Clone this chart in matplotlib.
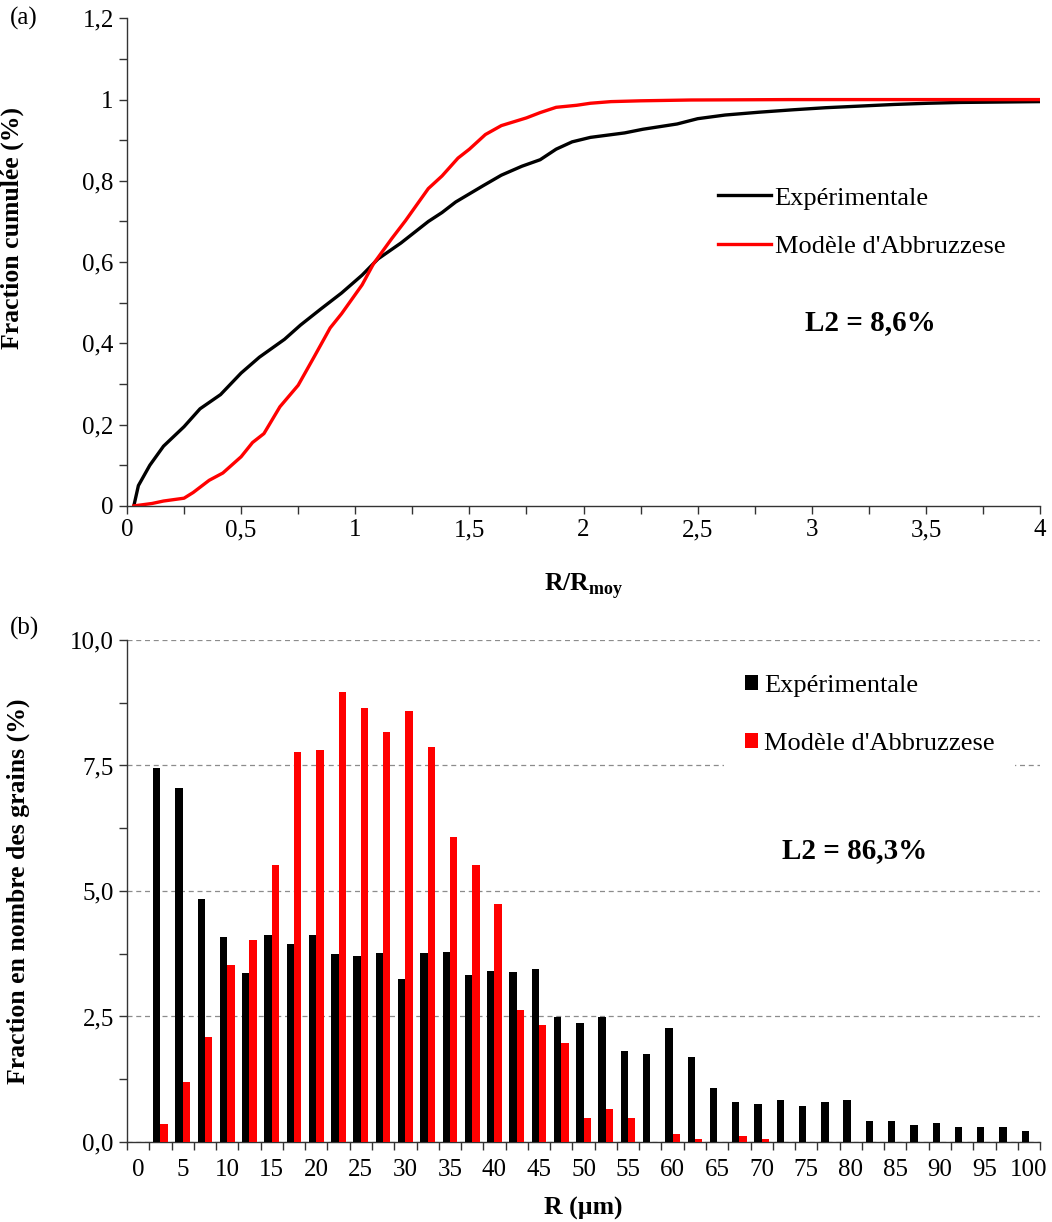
"""Cumulative and number-fraction grain size distributions, experiment vs Abbruzzese model."""

import matplotlib

matplotlib.use("Agg")
import matplotlib.pyplot as plt  # noqa: E402
from matplotlib.patches import Patch  # noqa: E402
from matplotlib.ticker import FuncFormatter, MultipleLocator  # noqa: E402
import numpy as np  # noqa: E402

plt.rcParams["font.family"] = ["Liberation Serif", "DejaVu Serif"]
plt.rcParams["mathtext.fontset"] = "custom"
plt.rcParams["mathtext.rm"] = "Liberation Serif"
plt.rcParams["mathtext.bf"] = "Liberation Serif:bold"

# (a) cumulative fraction vs R/Rmoy
exp_x = [0.03, 0.05, 0.10, 0.16, 0.25, 0.32, 0.41, 0.50, 0.58, 0.69, 0.76, 0.85, 0.94,
         1.03, 1.10, 1.20, 1.32, 1.38, 1.44, 1.56, 1.64, 1.73, 1.81, 1.88, 1.95, 2.03,
         2.18, 2.26, 2.41, 2.50, 2.62, 2.77, 2.92, 3.06, 3.21, 3.36, 3.51, 3.65, 4.00]
exp_y = [0.0, 0.05, 0.10, 0.147, 0.195, 0.239, 0.274, 0.327, 0.366, 0.41, 0.445, 0.485,
         0.524, 0.568, 0.608, 0.647, 0.70, 0.722, 0.748, 0.788, 0.814, 0.836, 0.852,
         0.878, 0.896, 0.907, 0.918, 0.927, 0.94, 0.953, 0.962, 0.969, 0.975, 0.98,
         0.984, 0.988, 0.991, 0.993, 0.995]
mod_x = [0.03, 0.11, 0.16, 0.25, 0.29, 0.36, 0.42, 0.50, 0.55, 0.60, 0.67, 0.75, 0.82,
         0.89, 0.94, 1.03, 1.08, 1.16, 1.22, 1.32, 1.38, 1.45, 1.50, 1.57, 1.64, 1.75,
         1.81, 1.88, 1.97, 2.03, 2.12, 2.25, 2.47, 2.90, 4.00]
mod_y = [0.0, 0.006, 0.012, 0.019, 0.033, 0.063, 0.081, 0.121, 0.156, 0.178, 0.244,
         0.297, 0.367, 0.438, 0.473, 0.544, 0.596, 0.658, 0.702, 0.781, 0.812, 0.856,
         0.878, 0.914, 0.936, 0.955, 0.968, 0.981, 0.986, 0.991, 0.995, 0.997, 0.999,
         1.0, 1.0]

# (b) number fraction per 2.5 um class
r_bins = [0, 2.5, 5, 7.5, 10, 12.5, 15, 17.5, 20, 22.5, 25, 27.5, 30, 32.5, 35, 37.5,
          40, 42.5, 45, 47.5, 50, 52.5, 55, 57.5, 60, 62.5, 65, 67.5, 70, 72.5, 75,
          77.5, 80, 82.5, 85, 87.5, 90, 92.5, 95, 97.5, 100]
exp_frac = [0.0, 7.45, 7.06, 4.84, 4.08, 3.37, 4.13, 3.95, 4.13, 3.75, 3.70, 3.76, 3.25,
            3.76, 3.78, 3.32, 3.40, 3.38, 3.45, 2.49, 2.36, 2.49, 1.82, 1.76, 2.27, 1.69,
            1.08, 0.80, 0.75, 0.83, 0.72, 0.80, 0.83, 0.42, 0.42, 0.33, 0.37, 0.29, 0.29,
            0.29, 0.22]
mod_frac = [0.0, 0.36, 1.20, 2.10, 3.52, 4.02, 5.51, 7.76, 7.80, 8.96, 8.65, 8.16, 8.59,
            7.86, 6.08, 5.51, 4.75, 2.63, 2.33, 1.97, 0.47, 0.65, 0.47, 0.0, 0.16, 0.06,
            0.0, 0.11, 0.06, 0.0, 0.0, 0.0, 0.0, 0.0, 0.0, 0.0, 0.0, 0.0, 0.0, 0.0, 0.0]

TICK_FS = 18
LABEL_FS = 18.5
LEGEND_FS = 19


def comma_fmt(decimals):
    def fmt(v, _pos):
        if decimals == 0:
            s = f"{v:g}"
        else:
            s = f"{v:.{decimals}f}"
        return s.replace(".", ",")
    return FuncFormatter(fmt)


def style_axes(ax):
    for side in ("top", "right"):
        ax.spines[side].set_visible(False)
    for side in ("left", "bottom"):
        ax.spines[side].set_color("#333333")
        ax.spines[side].set_linewidth(1.0)
    ax.tick_params(which="both", direction="out", color="#333333", width=1.0,
                   labelsize=TICK_FS)
    ax.tick_params(which="major", length=6)
    ax.tick_params(which="minor", length=6)


fig = plt.figure(figsize=(10.52, 12.22), dpi=100)

# ---- (a)
ax1 = fig.add_axes([0.1207, 0.586, 0.868, 0.399])
ax1.plot(exp_x, exp_y, color="black", lw=2.4, label="Expérimentale")
ax1.plot(mod_x, mod_y, color="#ff0000", lw=2.4, label="Modèle d'Abbruzzese")
ax1.set_xlim(0, 4)
ax1.set_ylim(0, 1.2)
ax1.xaxis.set_major_locator(MultipleLocator(0.5))
ax1.xaxis.set_minor_locator(MultipleLocator(0.25))
ax1.yaxis.set_major_locator(MultipleLocator(0.2))
ax1.yaxis.set_minor_locator(MultipleLocator(0.1))
ax1.xaxis.set_major_formatter(comma_fmt(0))
ax1.yaxis.set_major_formatter(comma_fmt(0))
style_axes(ax1)
ax1.set_ylabel("Fraction cumulée (%)", fontsize=LABEL_FS, fontweight="bold")
ax1.yaxis.set_label_coords(-0.113, 0.57)
ax1.set_xlabel(r"R/R$_{\mathbf{moy}}$", fontsize=LABEL_FS, fontweight="bold")
ax1.xaxis.set_label_coords(0.5, -0.133)
ax1.legend(loc="upper left", bbox_to_anchor=(0.647, 0.656), frameon=False,
           fontsize=LEGEND_FS, borderpad=0, borderaxespad=0, handlelength=2.0,
           handletextpad=0.15, labelspacing=0.95)
ax1.text(0.814, 0.376, "L2 = 8,6%", transform=ax1.transAxes, fontsize=21,
         fontweight="bold", ha="center", va="center")
fig.text(0.009, 1 - 18 / 1222, "(a)", fontsize=TICK_FS, va="center", ha="left")

# ---- (b)
ax2 = fig.add_axes([0.1207, 0.0655, 0.868, 0.4108])
idx = np.arange(len(r_bins))
bar_w = 0.33
ax2.bar(idx - bar_w / 2, exp_frac, width=bar_w, color="black", zorder=3)
ax2.bar(idx + bar_w / 2, mod_frac, width=bar_w, color="#ff0000", zorder=3)
ax2.set_xlim(-0.5, len(r_bins) - 0.5)
ax2.set_ylim(0, 10)
ax2.yaxis.set_major_locator(MultipleLocator(2.5))
ax2.yaxis.set_minor_locator(MultipleLocator(1.25))
ax2.yaxis.set_major_formatter(comma_fmt(1))
ax2.grid(axis="y", which="major", color="#8c8c8c", lw=0.9, ls=(0, (4, 3)), zorder=0)
ax2.set_axisbelow(True)
# category boundaries carry the ticks, every second category centre gets a label
ax2.set_xticks(np.arange(-0.5, len(r_bins), 1.0))
ax2.set_xticklabels([])
ax2.set_xticks(idx[::2], minor=True)
ax2.set_xticklabels([f"{r:g}" for r in r_bins[::2]], minor=True)
style_axes(ax2)
ax2.tick_params(axis="x", which="minor", length=0, pad=12)
ax2.set_ylabel("Fraction en nombre des grains (%)", fontsize=LABEL_FS, fontweight="bold")
ax2.yaxis.set_label_coords(-0.106, 0.5)
ax2.set_xlabel("R (µm)", fontsize=LABEL_FS, fontweight="bold")
ax2.xaxis.set_label_coords(0.5, -0.11)
handles = [Patch(facecolor="black"), Patch(facecolor="#ff0000")]
leg = ax2.legend(handles, ["Expérimentale", "Modèle d'Abbruzzese"], loc="upper left",
                 bbox_to_anchor=(0.654, 0.972), frameon=True, facecolor="white",
                 edgecolor="none", framealpha=1.0, fontsize=LEGEND_FS, borderpad=0.8,
                 borderaxespad=0, handlelength=0.5, handleheight=0.5,
                 handletextpad=0.2, labelspacing=1.35)
leg.set_zorder(2)
ax2.text(0.797, 0.581, "L2 = 86,3%", transform=ax2.transAxes, fontsize=21,
         fontweight="bold", ha="center", va="center")
fig.text(0.009, 1 - 628 / 1222, "(b)", fontsize=TICK_FS, va="center", ha="left")

fig.savefig("out.png", dpi=100)
